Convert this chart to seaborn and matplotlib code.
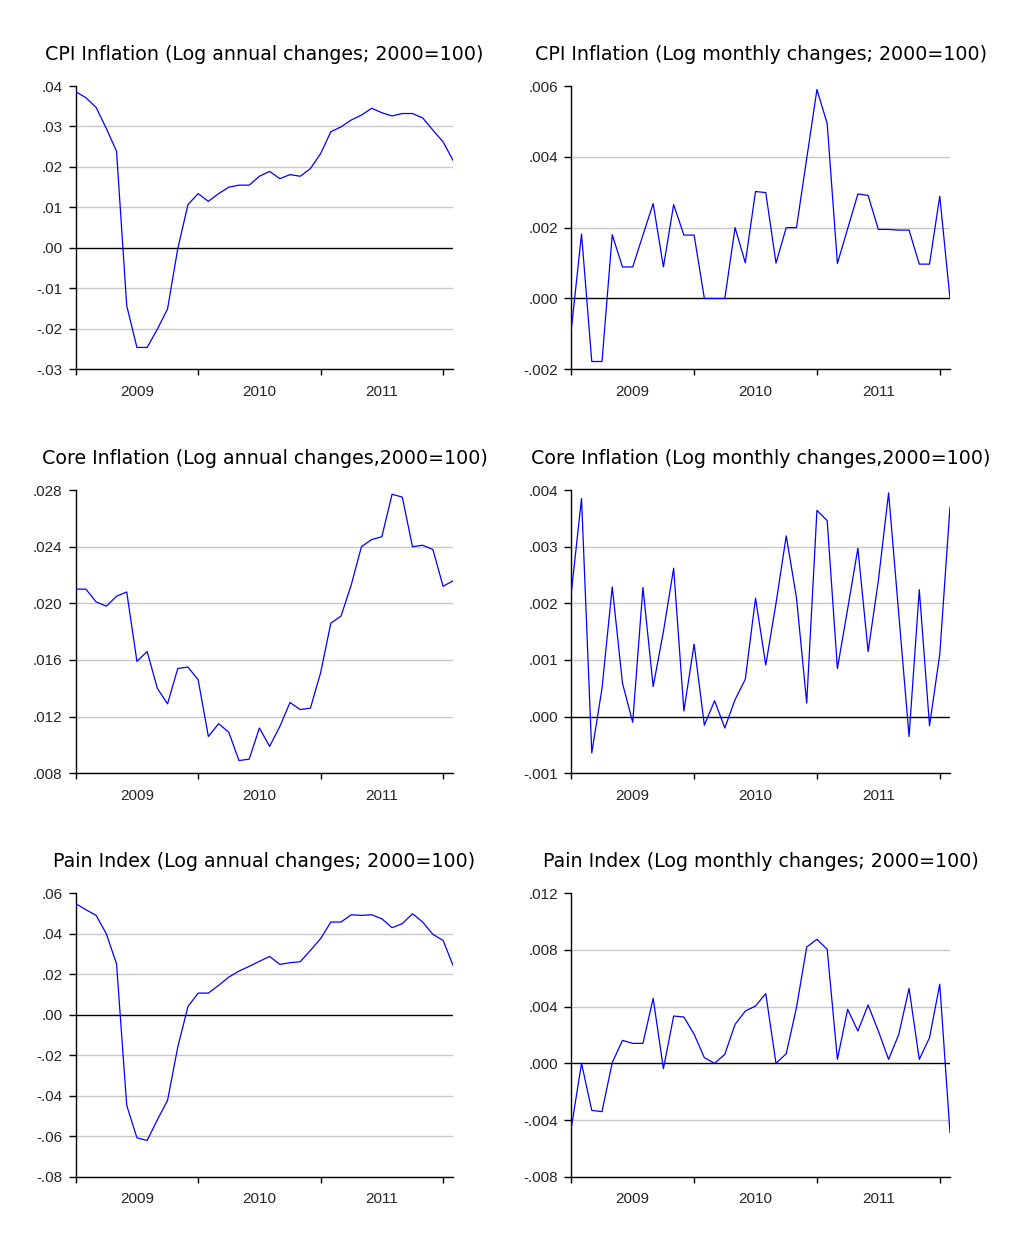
import numpy as np
import pandas as pd
import matplotlib
matplotlib.use("Agg")
import matplotlib.pyplot as plt
import seaborn as sns
from matplotlib.ticker import FuncFormatter, FixedLocator

sns.set_theme(style="white")
plt.rcParams['font.family'] = ['Liberation Sans', 'DejaVu Sans']

# monthly observations, 2009M01 .. 2012M02
months = pd.period_range("2009-01", periods=38, freq="M")
year_labels = ["2009", "2010", "2011"]

cpi_annual = [0.0386, 0.0371, 0.0347, 0.0295, 0.0239, -0.0143, -0.0246, -0.0246, -0.0201, -0.0151,
              -0.0002, 0.0107, 0.0134, 0.0115, 0.0134, 0.0150, 0.0155, 0.0155, 0.0177, 0.0189,
              0.0171, 0.0181, 0.0177, 0.0196, 0.0233, 0.0287, 0.0299, 0.0316, 0.0328, 0.0345,
              0.0334, 0.0326, 0.0332, 0.0332, 0.0321, 0.0291, 0.0262, 0.0215]
cpi_monthly = [-0.00088, 0.00182, -0.00178, -0.00178, 0.00180, 0.00089, 0.00089, 0.00179, 0.00268, 0.00089,
               0.00265, 0.00179, 0.00179, 0.0, 0.0, 0.0, 0.00200, 0.00101, 0.00302, 0.00299,
               0.00100, 0.00200, 0.00200, 0.00395, 0.00590, 0.00494, 0.00099, 0.00197, 0.00295, 0.00291,
               0.00195, 0.00195, 0.00193, 0.00193, 0.00097, 0.00097, 0.00289, 0.0]
core_annual = [0.0210, 0.0210, 0.0201, 0.0198, 0.0205, 0.0208, 0.0159, 0.0166, 0.0140, 0.0129,
               0.0154, 0.0155, 0.0146, 0.0106, 0.0115, 0.0109, 0.0089, 0.0090, 0.0112, 0.0099,
               0.0113, 0.0130, 0.0125, 0.0126, 0.0151, 0.0186, 0.0191, 0.0213, 0.0240, 0.0245,
               0.0247, 0.0277, 0.0275, 0.0240, 0.0241, 0.0238, 0.0212, 0.0216]
core_monthly = [0.00219, 0.00385, -0.00064, 0.00050, 0.00229, 0.00059, -0.00010, 0.00228, 0.00053, 0.00150,
                0.00262, 0.00010, 0.00128, -0.00015, 0.00028, -0.00020, 0.00030, 0.00066, 0.00209, 0.00091,
                0.00200, 0.00319, 0.00210, 0.00024, 0.00364, 0.00346, 0.00085, 0.00190, 0.00297, 0.00115,
                0.00240, 0.00395, 0.00180, -0.00035, 0.00224, -0.00016, 0.00110, 0.00370]
pain_annual = [0.0549, 0.0519, 0.0491, 0.0400, 0.0252, -0.0448, -0.0608, -0.0621, -0.0519, -0.0423,
               -0.0160, 0.0041, 0.0107, 0.0107, 0.0145, 0.0186, 0.0216, 0.0239, 0.0264, 0.0288,
               0.0249, 0.0257, 0.0262, 0.0318, 0.0376, 0.0458, 0.0458, 0.0494, 0.0491, 0.0494,
               0.0474, 0.0430, 0.0450, 0.0499, 0.0458, 0.0397, 0.0367, 0.0241]
pain_monthly = [-0.00454, 0.0, -0.00332, -0.00341, 0.00005, 0.00162, 0.00141, 0.00141, 0.00459, -0.00038,
                0.00334, 0.00327, 0.00205, 0.00040, 0.0, 0.00064, 0.00275, 0.00369, 0.00405, 0.00492,
                0.0, 0.00068, 0.00393, 0.00821, 0.00875, 0.00805, 0.00028, 0.00381, 0.00228, 0.00412,
                0.00228, 0.00028, 0.00205, 0.00529, 0.00028, 0.00181, 0.00558, -0.00490]

panels = [
    ("CPI Inflation (Log annual changes; 2000=100)", cpi_annual, (-0.03, 0.04), 0.01, 2),
    ("CPI Inflation (Log monthly changes; 2000=100)", cpi_monthly, (-0.002, 0.006), 0.002, 3),
    ("Core Inflation (Log annual changes,2000=100)", core_annual, (0.008, 0.028), 0.004, 3),
    ("Core Inflation (Log monthly changes,2000=100)", core_monthly, (-0.001, 0.004), 0.001, 3),
    ("Pain Index (Log annual changes; 2000=100)", pain_annual, (-0.08, 0.06), 0.02, 2),
    ("Pain Index (Log monthly changes; 2000=100)", pain_monthly, (-0.008, 0.012), 0.004, 3),
]

W, H = 1024, 1242
fig = plt.figure(figsize=(W / 100, H / 100), dpi=100)

cols = [(75.7, 453.3), (571.3, 950.0)]
rows = [(86.0, 369.3), (490.0, 773.3), (893.3, 1176.7)]


def dot_fmt(dec):
    def f(v, pos):
        s = f"{v:.{dec}f}"
        return s.replace("0.", ".", 1)
    return FuncFormatter(f)


t = np.arange(len(months))
for i, (title, vals, ylim, step, dec) in enumerate(panels):
    x0, x1 = cols[i % 2]
    y0, y1 = rows[i // 2]
    ax = fig.add_axes([x0 / W, 1 - y1 / H, (x1 - x0) / W, (y1 - y0) / H])
    df = pd.DataFrame({"t": t, "v": vals})

    yt = np.arange(ylim[0], ylim[1] + step / 2, step)
    for y in yt:
        if abs(y) < 1e-12:
            ax.axhline(0, color="black", lw=1.0, zorder=1)
        elif y < ylim[1] - step / 2:
            ax.axhline(y, color="#c8c8c8", lw=1.0, zorder=0)

    sns.lineplot(data=df, x="t", y="v", ax=ax, color="#0000ff", lw=0.9, zorder=3)

    ax.set_xlim(0, len(t) - 1)
    ax.set_ylim(*ylim)
    ax.set_yticks(yt)
    ax.yaxis.set_major_formatter(dot_fmt(dec))
    ax.xaxis.set_major_locator(FixedLocator([0, 12, 24, 36]))
    ax.xaxis.set_minor_locator(FixedLocator([6, 18, 30]))
    ax.set_xticklabels([])
    ax.set_xticklabels(year_labels, minor=True)
    ax.tick_params(axis="x", which="major", direction="out", length=4, width=1, color="black",
                   bottom=True)
    ax.tick_params(axis="x", which="minor", length=0, pad=11, labelsize=11, bottom=True)
    ax.tick_params(axis="y", direction="out", length=5, width=1, color="black", pad=4.5,
                   labelsize=11, left=True)
    ax.set_xlabel("")
    ax.set_ylabel("")
    ax.grid(False)
    for s in ["top", "right"]:
        ax.spines[s].set_visible(False)
    for s in ["left", "bottom"]:
        ax.spines[s].set_color("black")
        ax.spines[s].set_linewidth(1.0)
    ax.set_title(title, fontsize=13.7, pad=19, family=["DejaVu Sans"], color="black")

fig.savefig("out.png", dpi=100, facecolor="white")
